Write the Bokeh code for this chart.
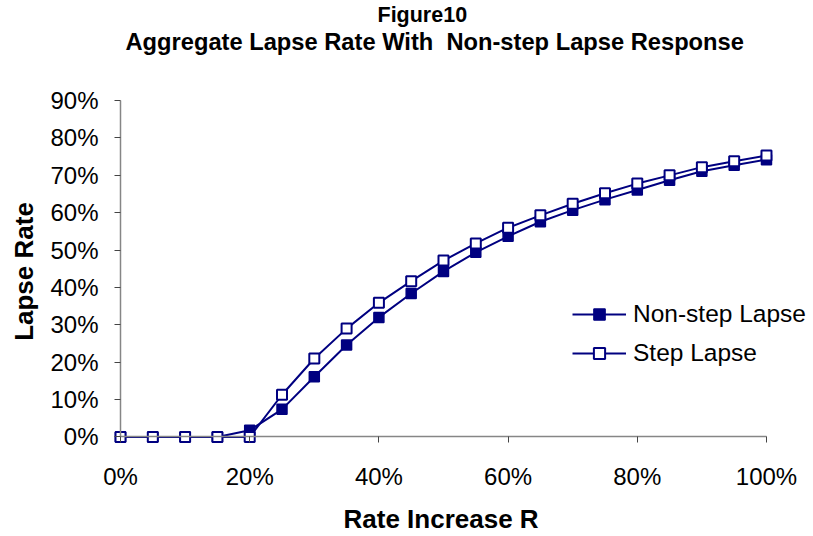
from bokeh.plotting import figure
from bokeh.models import (ColumnDataSource, FixedTicker, NumeralTickFormatter, Legend,
                          LegendItem, LinearAxis, Title)
from bokeh.embed import file_html
from bokeh.resources import INLINE

# data
rate = [0.00, 0.05, 0.10, 0.15, 0.20, 0.25, 0.30, 0.35, 0.40, 0.45, 0.50,
        0.55, 0.60, 0.65, 0.70, 0.75, 0.80, 0.85, 0.90, 0.95, 1.00]
nonstep = [0.000, 0.000, 0.000, 0.000, 0.018, 0.074, 0.161, 0.246, 0.320, 0.384, 0.443,
           0.494, 0.537, 0.576, 0.607, 0.635, 0.661, 0.687, 0.711, 0.727, 0.742]
step = [0.000, 0.000, 0.000, 0.000, 0.000, 0.113, 0.210, 0.290, 0.359, 0.417, 0.472,
        0.518, 0.560, 0.593, 0.624, 0.652, 0.678, 0.700, 0.722, 0.738, 0.753]

x_ticks = [0.0, 0.2, 0.4, 0.6, 0.8, 1.0]
y_ticks = [0.0, 0.1, 0.2, 0.3, 0.4, 0.5, 0.6, 0.7, 0.8, 0.9]

title_lines = ["Figure10", "Aggregate Lapse Rate With\u00a0 Non-step Lapse Response"]
x_title = "Rate Increase R"
y_title = "Lapse Rate"

NAVY = "#000080"
GREY = "#868686"
FONT = "Liberation Sans"

src = ColumnDataSource(data=dict(rate=rate, nonstep=nonstep, step=step))

# ranges reach a little past 0 so the markers at the origin are not clipped
p = figure(width=813, height=536, output_backend="svg", toolbar_location=None,
           x_range=(-0.0155, 1.0666), y_range=(-0.0174, 0.903),
           min_border_left=110, min_border_right=4,
           min_border_top=99, min_border_bottom=93)
p.outline_line_color = None
p.xgrid.visible = False
p.ygrid.visible = False

# default axes: tick labels only, at the frame edge
for ax, ticks in ((p.xaxis[0], x_ticks), (p.yaxis[0], y_ticks)):
    ax.ticker = FixedTicker(ticks=ticks)
    ax.formatter = NumeralTickFormatter(format="0%")
    ax.axis_line_color = None
    ax.major_tick_line_color = None
    ax.minor_tick_line_color = None
    ax.major_tick_out = 0
    ax.major_tick_in = 0
    ax.major_label_text_font = FONT
    ax.major_label_text_font_size = "24px"
    ax.major_label_text_color = "black"
p.xaxis.major_label_standoff = 19
p.yaxis.major_label_standoff = 12
p.yaxis.axis_label = y_title
p.yaxis.axis_label_text_font = FONT
p.yaxis.axis_label_text_font_style = "bold"
p.yaxis.axis_label_text_font_size = "26px"
p.yaxis.axis_label_text_color = "black"
p.yaxis.axis_label_standoff = 8


def plain_axis(ticks, **kw):
    ax = LinearAxis(ticker=FixedTicker(ticks=ticks), **kw)
    ax.minor_tick_line_color = None
    ax.major_label_text_font_size = "1px"
    ax.major_label_text_color = None
    return ax


def spacer(size):
    # an empty axis that only takes up room in a side panel
    ax = plain_axis([0.5])
    ax.axis_line_color = None
    ax.major_tick_line_color = None
    ax.major_tick_out = size
    ax.major_label_standoff = 0
    return ax


# axis lines and ticks through the origin
xline = plain_axis(x_ticks, fixed_location=0, bounds=(0, 1))
yline = plain_axis(y_ticks, fixed_location=0, bounds=(0, 0.9))
for ax in (xline, yline):
    ax.axis_line_color = GREY
    ax.axis_line_width = 1.5
    ax.major_tick_line_color = "#444444"
    ax.major_tick_out = 6
    ax.major_tick_in = 0
    ax.major_label_standoff = 0

# titles: side items added first sit closest to the plot, p.title outermost
p.add_layout(spacer(45), "above")
p.add_layout(Title(text=title_lines[1], align="left", offset=15, text_font=FONT,
                   text_font_style="bold", text_font_size="23.7px", text_color="black",
                   standoff=0), "above")
p.title.text = title_lines[0]
p.title.align = "left"
p.title.offset = 267
p.title.text_font = FONT
p.title.text_font_style = "bold"
p.title.text_font_size = "21.5px"
p.title.text_color = "black"
p.title.standoff = 0

p.add_layout(xline, "below")
p.add_layout(spacer(8), "below")
p.add_layout(Title(text=x_title, align="left", offset=233, text_font=FONT,
                   text_font_style="bold", text_font_size="26px", text_color="black",
                   standoff=2), "below")
p.add_layout(yline, "left")

# series
l1 = p.line("rate", "nonstep", source=src, color=NAVY, line_width=2)
s1 = p.scatter("rate", "nonstep", source=src, marker="square", size=10,
               fill_color=NAVY, line_color=NAVY, line_width=1.5)
l2 = p.line("rate", "step", source=src, color=NAVY, line_width=2)
s2 = p.scatter("rate", "step", source=src, marker="square", size=10,
               fill_color="white", line_color=NAVY, line_width=2)

legend = Legend(items=[LegendItem(label="Non-step Lapse", renderers=[l1, s1]),
                       LegendItem(label="Step Lapse", renderers=[l2, s2])],
                location=(462, 76), orientation="vertical")
legend.background_fill_alpha = 0
legend.border_line_color = None
legend.padding = 0
legend.margin = 0
legend.spacing = 11
legend.glyph_width = 54
legend.glyph_height = 28
legend.label_height = 28
legend.label_standoff = 7
legend.label_text_font = FONT
legend.label_text_font_size = "24.5px"
legend.label_text_color = "black"
p.add_layout(legend, "center")

open("out.html", "w").write(file_html(p, INLINE))
